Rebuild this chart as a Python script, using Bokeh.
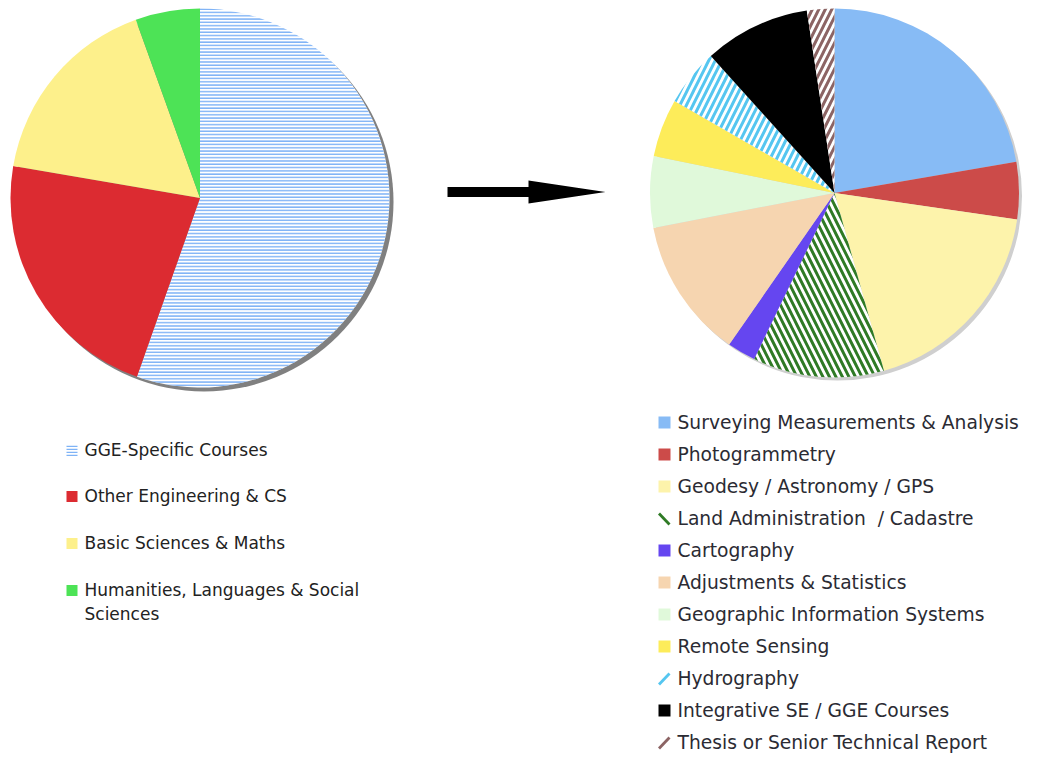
import math
from bokeh.plotting import figure
from bokeh.models import Range1d
from bokeh.core.properties import value
from bokeh.embed import file_html
from bokeh.resources import INLINE

# ---------------- data ----------------
left_labels = ["GGE-Specific Courses", "Other Engineering & CS", "Basic Sciences & Maths",
               "Humanities, Languages & Social\nSciences"]
left_values = [55.4, 22.3, 16.8, 5.5]
left_colors = ["#ffffff", "#dc2b31", "#fdf08b", "#4de356"]
left_hatch = ["horizontal_line", None, None, None]
left_hatch_colors = ["#7fb3f6", None, None, None]

right_labels = ["Surveying Measurements & Analysis", "Photogrammetry", "Geodesy / Astronomy / GPS",
                "Land Administration\u00a0 / Cadastre", "Cartography", "Adjustments & Statistics",
                "Geographic Information Systems", "Remote Sensing", "Hydrography",
                "Integrative SE / GGE Courses", "Thesis or Senior Technical Report"]
right_values = [22.3, 5.0, 18.4, 11.5, 2.5, 12.3, 6.25, 5.1, 5.0, 9.3, 2.4]
right_colors = ["#87bbf5", "#cc4b49", "#fdf3ab", "#ffffff", "#6546f0", "#f6d5b0",
                "#e0f9da", "#fdec5a", "#ffffff", "#000000", "#ffffff"]
right_hatch = [None, None, None, "left_diagonal_line", None, None, None, None,
               "right_diagonal_line", None, "right_diagonal_line"]
right_hatch_colors = [None, None, None, "#2f7a25", None, None, None, None,
                      "#55c6f0", None, "#8c6464"]

H = 771  # flip pixel rows into data y

W_FIG, H_FIG = 1026, 755
p = figure(width=W_FIG, height=H_FIG, output_backend="svg", toolbar_location=None,
           x_range=Range1d(0, W_FIG), y_range=Range1d(H - H_FIG, H),
           min_border=0)
p.axis.visible = False
p.grid.visible = False
p.outline_line_color = None
p.background_fill_color = "white"
p.border_fill_color = "white"


def pie(cx, cy, r, values, colors, hatches, hcolors, hscale, hweight, shadow_color, shadow_off):
    total = float(sum(values))
    p.circle(x=[cx + shadow_off], y=[H - cy - shadow_off], radius=r, fill_color=shadow_color,
             line_color=None)
    cum = 0.0
    for v, c, h, hc in zip(values, colors, hatches, hcolors):
        a0 = cum / total * 360.0
        cum += v
        a1 = cum / total * 360.0
        kw = dict(x=[cx], y=[H - cy], radius=r,
                  start_angle=[math.radians(90 - a0)], end_angle=[math.radians(90 - a1)],
                  direction="clock", fill_color=c, line_color=None)
        if h:
            kw.update(hatch_pattern=h, hatch_color=hc, hatch_scale=hscale, hatch_weight=hweight)
        p.wedge(**kw)


# left pie
pie(199.5, 197.5, 189.5, left_values, left_colors, left_hatch, left_hatch_colors,
    3.3, 1.6, "#808080", 4)

# right pie (shifted slightly left so that it fits the canvas)
pie(834.0, 192.5, 184.5, right_values, right_colors, right_hatch, right_hatch_colors,
    13, 3.0, "#cfcfcf", 3)

# arrow (decoration)
ax = [447, 528, 528, 605, 528, 528, 447]
ay = [186.5, 186.5, 180, 191.5, 203, 196.5, 196.5]
p.patch(x=ax, y=[H - v for v in ay], fill_color="black", line_color=None)

# ---------------- legends ----------------
left_rows = [450, 496, 543, 590]
for lab, c, h, hc, yy in zip(left_labels, left_colors, left_hatch, left_hatch_colors, left_rows):
    kw = dict(x=[71.5], y=[H - yy], width=11, height=11, fill_color=c, line_color=None)
    if h:
        kw.update(hatch_pattern=h, hatch_color=hc, hatch_scale=3.0, hatch_weight=1.5)
    p.rect(**kw)
    p.text(x=[84], y=[H - yy + 10.5], text=[lab], text_font=value("DejaVu Sans"),
           text_font_size="17px", text_color="#222222", text_baseline="top",
           text_line_height=1.2)

LX = 664  # legend square centre x (right legend)
right_rows = [422 + 32 * i for i in range(len(right_labels))]
for lab, c, h, hc, yy in zip(right_labels, right_colors, right_hatch, right_hatch_colors, right_rows):
    if h is None:
        p.rect(x=[LX], y=[H - yy], width=12, height=12, fill_color=c, line_color=None)
    else:
        if h == "left_diagonal_line":
            p.segment(x0=[LX - 5.5], y0=[H - yy + 5], x1=[LX + 5], y1=[H - yy - 6],
                      line_color=hc, line_width=2.8)
        else:
            p.segment(x0=[LX - 5.5], y0=[H - yy - 6], x1=[LX + 5], y1=[H - yy + 5],
                      line_color=hc, line_width=2.8)
    p.text(x=[LX + 13], y=[H - yy], text=[lab], text_font=value("DejaVu Sans"),
           text_font_size="18.7px", text_color="#2b2b33", text_baseline="middle")

open("out.html", "w").write(file_html(p, INLINE))
